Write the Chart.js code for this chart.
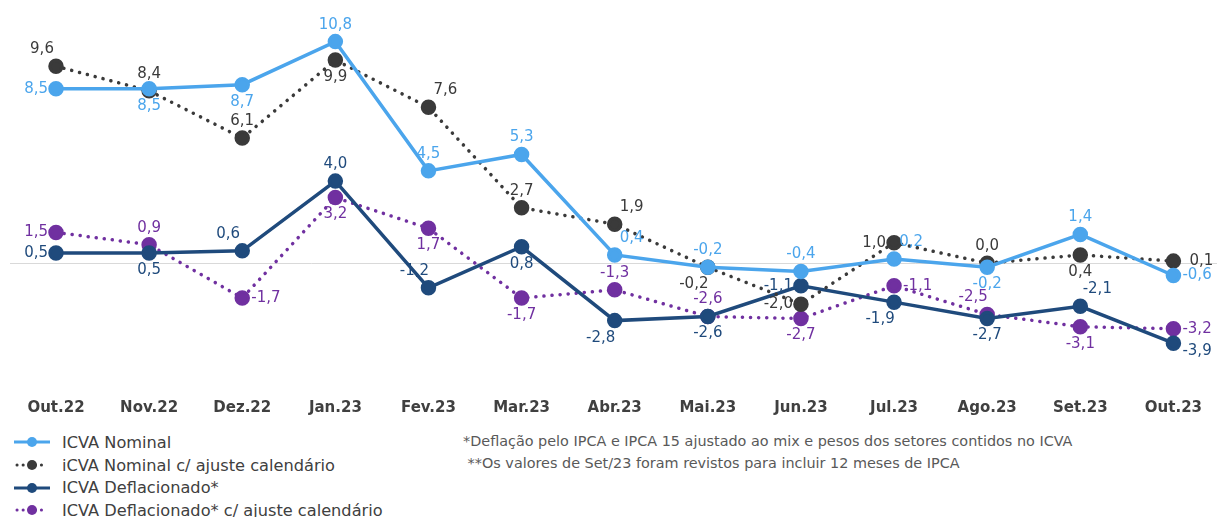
<!DOCTYPE html>
<html><head><meta charset="utf-8">
<script src="https://cdn.jsdelivr.net/npm/chart.js@4.4.0/dist/chart.umd.min.js"></script>
<style>
html,body{margin:0;padding:0;background:#fff;overflow:hidden;}
#wrap{position:relative;width:1217px;height:517px;font-family:"DejaVu Sans",sans-serif;}
#cv{position:absolute;left:0;top:0;}
#legend{position:absolute;left:14px;top:431px;}
.li{display:flex;align-items:center;height:22.7px;font-size:16.2px;color:#404040;}
.li svg{margin-right:12px;}
#notes{position:absolute;left:463px;top:430px;font-size:14.4px;color:#595959;line-height:22px;white-space:nowrap;}
</style></head>
<body><div id="wrap"><canvas id="cv" width="1217" height="420"></canvas>
<div id="legend"></div>
<div id="notes"><div>*Deflação pelo IPCA e IPCA 15 ajustado ao mix e pesos dos setores contidos no ICVA</div><div>&nbsp;**Os valores de Set/23 foram revistos para incluir 12 meses de IPCA</div></div>
</div>
<script>
const categories = ["Out.22","Nov.22","Dez.22","Jan.23","Fev.23","Mar.23","Abr.23","Mai.23","Jun.23","Jul.23","Ago.23","Set.23","Out.23"];
const nominal = [8.5, 8.5, 8.7, 10.8, 4.5, 5.3, 0.4, -0.2, -0.4, 0.2, -0.2, 1.4, -0.6];
const nominalAjuste = [9.6, 8.4, 6.1, 9.9, 7.6, 2.7, 1.9, -0.2, -2.0, 1.0, 0.0, 0.4, 0.1];
const deflacionado = [0.5, 0.5, 0.6, 4.0, -1.2, 0.8, -2.8, -2.6, -1.1, -1.9, -2.7, -2.1, -3.9];
const deflacionadoAjuste = [1.5, 0.9, -1.7, 3.2, 1.7, -1.7, -1.3, -2.6, -2.7, -1.1, -2.5, -3.1, -3.2];
const seriesNames = ["ICVA Nominal","iCVA Nominal c/ ajuste calendário","ICVA Deflacionado*","ICVA Deflacionado* c/ ajuste calendário"];

// label placement codes (layout only)
const posNominal = ["l","b","b","t","t","t","tr","t","t","tr","b","t","r"];
const posNominalAj = ["tl","t","t","b","tr","t","tr","bl","l","l","t","b","rr"];
const posDefl = ["l","b","tl","t","tl","b","bl","b","l","bl","b","tr","rb"];
const posDeflAj = ["l","t","r","b","b","b","t","t","b","r","tl","b","r"];

const cLight = "#4BA5EC", cBlack = "#3A3A3A", cNavy = "#1F4A7C", cPurple = "#7030A0";
const FONT = "'DejaVu Sans', sans-serif";

function mk(label, data, color, dotted, pos){
  return {label, data, borderColor:color, backgroundColor:color, pointBackgroundColor:color,
    pointBorderColor:color, pointRadius:6, pointHoverRadius:6, borderWidth:3.5,
    borderDash: dotted?[0.1,8]:[], borderCapStyle: dotted?'round':'butt', tension:0,
    _pos:pos, _dotted:dotted, clip:false};
}
const datasets = [
  mk(seriesNames[0], nominal, cLight, false, posNominal),
  mk(seriesNames[1], nominalAjuste, cBlack, true, posNominalAj),
  mk(seriesNames[2], deflacionado, cNavy, false, posDefl),
  mk(seriesNames[3], deflacionadoAjuste, cPurple, true, posDeflAj)
];

const zeroLine = {id:'zeroLine', beforeDatasetsDraw(chart){
  const y = chart.scales.y.getPixelForValue(0); const c = chart.ctx;
  c.save(); c.strokeStyle="#D9D9D9"; c.lineWidth=1; c.beginPath();
  c.moveTo(10, Math.round(y)+0.5); c.lineTo(chart.width, Math.round(y)+0.5); c.stroke(); c.restore();
}};
const labelsPlugin = {id:'valLabels', afterDatasetsDraw(chart){
  const c = chart.ctx; c.save(); c.font = "15px "+FONT;
  chart.data.datasets.forEach((ds,i)=>{
    const meta = chart.getDatasetMeta(i);
    meta.data.forEach((pt,j)=>{
      const p = ds._pos[j]; let dx=0, dy=0, al='center';
      if(p.includes('t')) dy=-17; if(p.includes('b') && p!=='rb') dy=17;
      if(p==='rb') dy=8;
      if(p.includes('l')){ dx = (p==='l')?-8:-14; al = (p==='l')?'right':'center'; }
      if(p.includes('r')){
        if(p==='r'||p==='rb'){ dx=9; al='left'; }
        else if(p==='rr'){ dx=16; al='left'; }
        else { dx=17; al='center'; }
      }
      c.fillStyle = ds.borderColor; c.textAlign = al; c.textBaseline='middle';
      c.fillText(ds.data[j].toFixed(1).replace('.',','), pt.x+dx, pt.y+dy);
    });
  });
  c.restore();
}};

new Chart(document.getElementById('cv'), {
  type:'line',
  data:{labels:categories, datasets},
  options:{responsive:false, animation:false,
    layout:{padding:{left:56, right:40, top:17, bottom:0}},
    plugins:{legend:{display:false}, tooltip:{enabled:false}},
    scales:{
      x:{offset:false, grid:{display:false}, border:{display:false},
         ticks:{color:"#404040", font:{family:FONT, size:15, weight:'bold'}, padding:15, maxRotation:0},
         afterFit(s){ s.height = 44; }},
      y:{display:false, min:-5.5, max:12}
    }
  },
  plugins:[zeroLine, labelsPlugin]
});

// HTML legend
const lg = document.getElementById('legend');
datasets.forEach(ds=>{
  const d = document.createElement('div'); d.className='li';
  const line = ds._dotted
    ? `<line x1="3" y1="6" x2="33" y2="6" stroke="${ds.borderColor}" stroke-width="3" stroke-linecap="round" stroke-dasharray="0.1 6"/>`
    : `<line x1="0" y1="6" x2="36" y2="6" stroke="${ds.borderColor}" stroke-width="3"/>`;
  d.innerHTML = `<svg width="36" height="12">${line}<circle cx="18" cy="6" r="5" fill="${ds.borderColor}"/></svg><span>${ds.label}</span>`;
  lg.appendChild(d);
});
</script>
</body></html>
